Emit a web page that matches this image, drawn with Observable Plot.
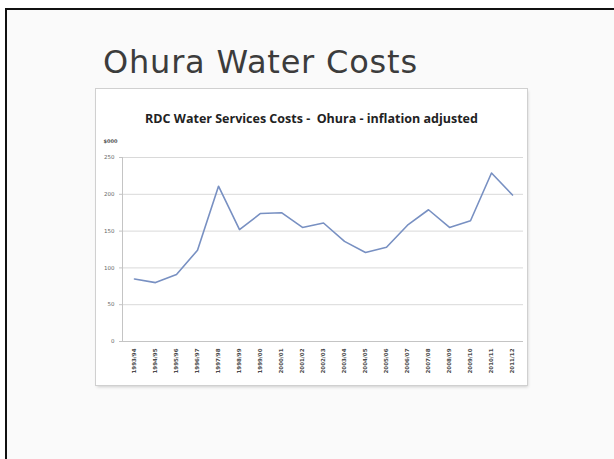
<!DOCTYPE html>
<html>
<head>
<meta charset="utf-8">
<script src="https://cdn.jsdelivr.net/npm/d3@7"></script>
<script src="https://cdn.jsdelivr.net/npm/@observablehq/plot@0.6"></script>
<style>
  html, body { margin: 0; padding: 0; background: #ffffff; width: 614px; height: 459px; overflow: hidden; }
  #slide { position: absolute; left: 5px; top: 8px; width: 620px; height: 460px; background: #fafafa;
           border-left: 2px solid #111; border-top: 2px solid #111; }
  #title { position: absolute; left: 103px; top: 43px; font-family: "DejaVu Sans", sans-serif; font-size: 32px;
           letter-spacing: 0.8px; color: #3c3c3c; white-space: nowrap; }
  #box { position: absolute; left: 96px; top: 89px; width: 431px; height: 296px; background: #fff;
         box-shadow: 0 0 0 1px #d0d0d0, 1px 2px 3px rgba(0,0,0,0.18); }
  #ctitle { position: absolute; left: 0; width: 431px; top: 21px; text-align: center;
            font-family: "Open Sans", sans-serif; font-weight: bold; font-size: 12.5px; color: #222; white-space: pre; }
  #chart { position: absolute; left: 0; top: 0; }
</style>
</head>
<body>
<div id="slide"></div>
<div id="title">Ohura Water Costs</div>
<div id="box">
  <div id="chart"></div>
  <div id="ctitle">RDC Water Services Costs -  Ohura - inflation adjusted</div>
</div>
<script>
const years = ["1993/94","1994/95","1995/96","1996/97","1997/98","1998/99","1999/00","2000/01","2001/02","2002/03",
               "2003/04","2004/05","2005/06","2006/07","2007/08","2008/09","2009/10","2010/11","2011/12"];
const costs = [85, 80, 91, 124, 211, 152, 174, 175, 155, 161, 136, 121, 128, 158, 179, 155, 164, 229, 199];
const yTicks = [0, 50, 100, 150, 200, 250];
const unitLabel = "$000";

const data = years.map((y, i) => ({year: y, cost: costs[i]}));

const chart = Plot.plot({
  width: 431,
  height: 296,
  marginLeft: 26,
  marginRight: 4,
  marginTop: 68,
  marginBottom: 44,
  style: {background: "transparent", fontFamily: "DejaVu Sans, sans-serif"},
  x: {type: "point", domain: years, padding: 0.5, label: null},
  y: {domain: [0, 250], label: null},
  marks: [
    Plot.ruleY(yTicks.filter(d => d > 0), {stroke: "#d9d9d9", strokeWidth: 1}),
    Plot.ruleY([0], {stroke: "#c4c4c4", strokeWidth: 1}),
    Plot.frame({anchor: "left", stroke: "#c4c4c4"}),
    Plot.axisY({ticks: yTicks, tickSize: 3, tickPadding: 5, fontSize: 5.5, fill: "#666", stroke: "#c4c4c4"}),
    Plot.axisX({tickSize: 0, tickPadding: 7, tickRotate: -90, fontSize: 5.5, fontWeight: "bold", fill: "#4a4a4a"}),
    Plot.text([unitLabel], {frameAnchor: "top-left", dx: -19, dy: -18, fontSize: 5, fontWeight: "bold", fill: "#555", textAnchor: "start"}),
    Plot.lineY(data, {x: "year", y: "cost", stroke: "#7890c2", strokeWidth: 1.6})
  ]
});
document.getElementById("chart").appendChild(chart);
</script>
</body>
</html>
